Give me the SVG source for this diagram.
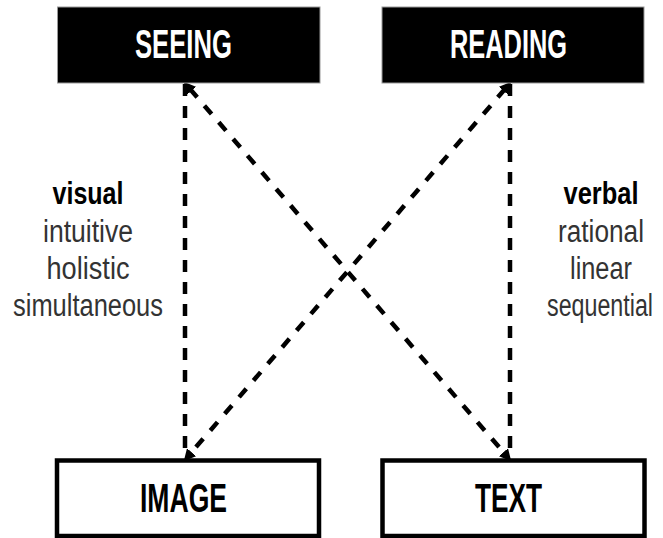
<svg xmlns="http://www.w3.org/2000/svg" width="663" height="538" viewBox="0 0 663 538">
<style>
.top{fill:#000;stroke:#999;stroke-width:1}
.bot{fill:#fff;stroke:#000;stroke-width:4.5}
.ttl{font-family:"Liberation Sans",Arial,sans-serif;font-weight:bold;font-size:40px;text-anchor:middle}
.w{fill:#fff}
.k{fill:#000}
.lbl{font-family:"Liberation Sans",Arial,sans-serif;font-size:31px;fill:#333;text-anchor:middle}
.b{font-weight:bold;fill:#000}
.dash{fill:none;stroke:#000;stroke-width:4.5;stroke-dasharray:12 10}
.diag{fill:none;stroke:#000;stroke-width:4.5;stroke-dasharray:11 11}
</style>
<defs>
<marker id="ah" viewBox="0 0 10 10" refX="2" refY="5" markerWidth="12" markerHeight="12" markerUnits="userSpaceOnUse" orient="auto-start-reverse">
<path d="M0,0 L10,5 L0,10 z" fill="#000"/>
</marker>
</defs>
<g id="connectors">
<line class="dash" x1="185" y1="84" x2="185" y2="458"/>
<line class="dash" x1="510" y1="84" x2="510" y2="458"/>
<line class="diag" x1="190" y1="89" x2="505" y2="454" marker-start="url(#ah)" marker-end="url(#ah)"/>
<line class="diag" x1="505" y1="89" x2="190" y2="454" marker-start="url(#ah)" marker-end="url(#ah)"/>
</g>
<g id="seeing">
<rect class="top" x="57.5" y="7" width="262.5" height="76"/>
<text class="ttl w" x="183.5" y="58" textLength="97" lengthAdjust="spacingAndGlyphs">SEEING</text>
</g>
<g id="reading">
<rect class="top" x="382" y="7" width="262" height="76"/>
<text class="ttl w" x="508.5" y="58" textLength="117" lengthAdjust="spacingAndGlyphs">READING</text>
</g>
<g id="image">
<rect class="bot" x="57" y="460.5" width="262" height="75.5"/>
<text class="ttl k" x="183.5" y="512" textLength="87" lengthAdjust="spacingAndGlyphs">IMAGE</text>
</g>
<g id="text">
<rect class="bot" x="382.5" y="460.5" width="262" height="75.5"/>
<text class="ttl k" x="508.5" y="512" textLength="67" lengthAdjust="spacingAndGlyphs">TEXT</text>
</g>
<g id="left-labels">
<text class="lbl b" x="88" y="204" textLength="71" lengthAdjust="spacingAndGlyphs">visual</text>
<text class="lbl" x="88" y="242" textLength="90" lengthAdjust="spacingAndGlyphs">intuitive</text>
<text class="lbl" x="88" y="279" textLength="83" lengthAdjust="spacingAndGlyphs">holistic</text>
<text class="lbl" x="88" y="316" textLength="150" lengthAdjust="spacingAndGlyphs">simultaneous</text>
</g>
<g id="right-labels">
<text class="lbl b" x="601" y="204" textLength="75" lengthAdjust="spacingAndGlyphs">verbal</text>
<text class="lbl" x="601" y="242" textLength="86" lengthAdjust="spacingAndGlyphs">rational</text>
<text class="lbl" x="601" y="279" textLength="62" lengthAdjust="spacingAndGlyphs">linear</text>
<text class="lbl" transform="translate(600 316) scale(0.75 1)" x="0" y="0">sequential</text>
</g>
</svg>
